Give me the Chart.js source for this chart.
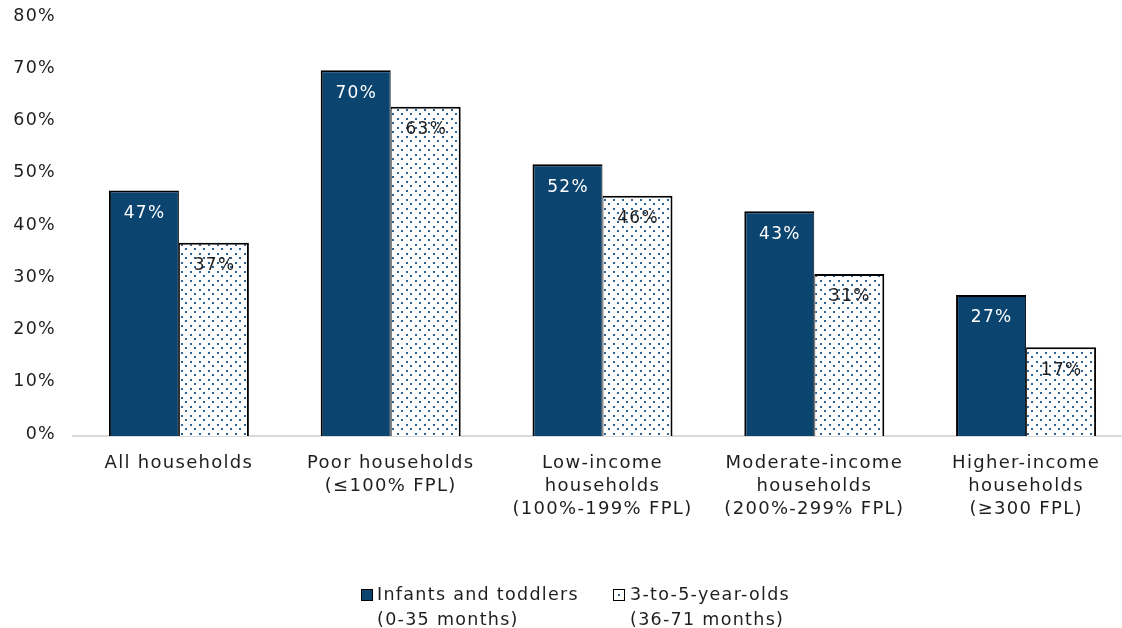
<!DOCTYPE html>
<html>
<head>
<meta charset="utf-8">
<script src="https://cdn.jsdelivr.net/npm/chart.js@4.4.1/dist/chart.umd.min.js"></script>
<style>
  html, body { margin: 0; padding: 0; background: #fff; overflow: hidden; }
  #wrap { position: relative; width: 1132px; height: 628px; }
  #chart { position: absolute; left: 0; top: 0; }
  .legend-item { position: absolute; top: 582px; font-family: "DejaVu Sans", sans-serif;
    font-size: 17.5px; line-height: 25px; color: #1e1e1e; letter-spacing: 1.3px; white-space: nowrap; }
  .swatch { position: absolute; width: 10px; height: 10px; border: 1px solid #000; }
</style>
</head>
<body>
<div id="wrap">
  <canvas id="chart" width="1132" height="628"></canvas>
  <div class="swatch" id="sw0" style="left:361px; top:589px; background:#0C4470;"></div>
  <div class="legend-item" id="lg0" style="left:377px;"></div>
  <div class="swatch" id="sw1" style="left:613px; top:589px; background:#fff;"></div>
  <div class="legend-item" id="lg1" style="left:630px;"></div>
</div>
<script>
// Household income groups along the x axis
const categories = [
  ['All households'],
  ['Poor households', '(≤100% FPL)'],
  ['Low-income', 'households', '(100%-199% FPL)'],
  ['Moderate-income', 'households', '(200%-299% FPL)'],
  ['Higher-income', 'households', '(≥300 FPL)']
];

// Share of children, percent
const infantsToddlers = [47, 70, 52, 43, 27];
const preschoolers = [37, 63, 46, 31, 17];

// Series names (two lines each)
const seriesNames = [
  ['Infants and toddlers', '(0-35 months)'],
  ['3-to-5-year-olds', '(36-71 months)']
];

const yTickValues = [0, 10, 20, 30, 40, 50, 60, 70, 80];

const NAVY = '#0C4470';
const DOT = 'rgb(45,100,150)';
const TEXT = '#1e1e1e';

// Dotted fill for the second series
function dotPattern() {
  const c = document.createElement('canvas');
  c.width = 9; c.height = 9;
  const g = c.getContext('2d');
  g.fillStyle = '#fff';
  g.fillRect(0, 0, 9, 9);
  g.fillStyle = DOT;
  g.fillRect(1, 1, 2, 2);
  g.fillRect(5, 5, 2, 2);
  return document.getElementById('chart').getContext('2d').createPattern(c, 'repeat');
}

// Legend text
document.getElementById('lg0').innerHTML = seriesNames[0].join('<br>');
document.getElementById('lg1').innerHTML = seriesNames[1].join('<br>');
(function () {
  const sw = document.getElementById('sw1');
  const d = document.createElement('div');
  d.style.cssText = 'position:absolute;left:4px;top:4px;width:2px;height:2px;background:' + DOT + ';';
  sw.appendChild(d);
})();

Chart.defaults.font.family = '"DejaVu Sans", sans-serif';
Chart.defaults.color = TEXT;

const letterSpacing = {
  id: 'letterSpacing',
  beforeDraw(chart) { chart.ctx.letterSpacing = '1.3px'; }
};

// Value labels inside the top of each bar
const barValues = {
  id: 'barValues',
  afterDatasetsDraw(chart) {
    const ctx = chart.ctx;
    ctx.save();
    ctx.font = '17px "DejaVu Sans", sans-serif';
    ctx.textAlign = 'center';
    ctx.textBaseline = 'middle';
    chart.data.datasets.forEach((ds, di) => {
      const meta = chart.getDatasetMeta(di);
      ctx.fillStyle = di === 0 ? '#ffffff' : TEXT;
      meta.data.forEach((bar, i) => {
        ctx.fillText(ds.data[i] + '%', bar.x + 0.6, bar.y + 23);
      });
    });
    ctx.restore();
  }
};

new Chart(document.getElementById('chart'), {
  type: 'bar',
  data: {
    labels: categories,
    datasets: [
      {
        label: seriesNames[0].join(' '),
        data: infantsToddlers,
        backgroundColor: NAVY,
        borderColor: '#000',
        borderWidth: { top: 2, left: 2, right: 1, bottom: 0 },
        borderSkipped: false
      },
      {
        label: seriesNames[1].join(' '),
        data: preschoolers,
        backgroundColor: dotPattern(),
        borderColor: '#000',
        borderWidth: { top: 2, left: 1, right: 2, bottom: 0 },
        borderSkipped: false
      }
    ]
  },
  options: {
    responsive: false,
    animation: false,
    devicePixelRatio: 1,
    layout: { padding: { top: 18, left: 0, right: 0, bottom: 0 } },
    categoryPercentage: 0.661,
    barPercentage: 1,
    plugins: {
      legend: { display: false },
      tooltip: { enabled: false }
    },
    scales: {
      x: {
        grid: { display: false, drawTicks: false },
        border: { display: true, color: '#d9d9d9', width: 2 },
        ticks: {
          autoSkip: false,
          maxRotation: 0,
          padding: 16,
          color: TEXT,
          font: { size: 18, lineHeight: 23 / 18 }
        },
        afterFit(scale) {
          scale.height = 192;
          scale.paddingLeft = 0; scale.paddingRight = 0;
        }
      },
      y: {
        min: 0,
        max: 80,
        grid: { display: false, drawTicks: false },
        border: { display: false },
        afterBuildTicks(scale) { scale.ticks = yTickValues.map(v => ({ value: v })); },
        ticks: {
          padding: 17,
          labelOffset: -2,
          color: TEXT,
          font: { size: 17.5 },
          callback: v => v + '%'
        },
        afterFit(scale) {
          scale.width = 73;
          scale.paddingTop = 0; scale.paddingBottom = 0;
        }
      }
    }
  },
  plugins: [letterSpacing, barValues]
});
</script>
</body>
</html>
